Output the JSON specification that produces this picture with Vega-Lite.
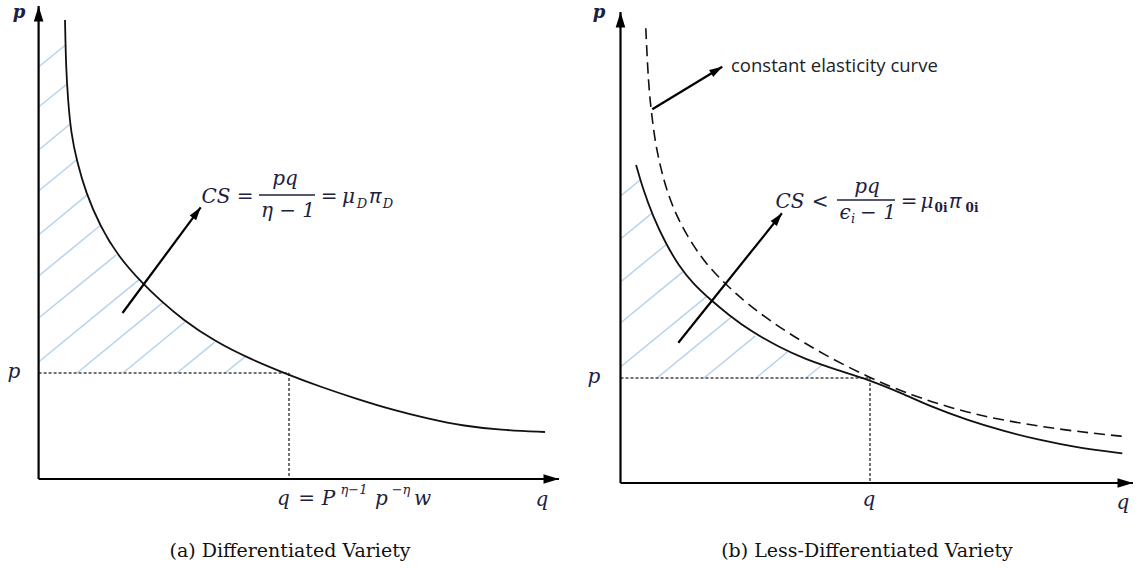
{
  "$schema": "https://vega.github.io/schema/vega-lite/v6.json",
  "width": 1136,
  "height": 571,
  "autosize": {"type": "fit", "contains": "padding"},
  "padding": 0,
  "background": "white",
  "config": {"view": {"stroke": null}},
  "datasets": {
    "segments": [
      {"kind": "hatch", "x": 38.6, "y": 67, "x2": 65.5, "y2": 45},
      {"kind": "hatch", "x": 38.6, "y": 107, "x2": 67, "y2": 84},
      {"kind": "hatch", "x": 38.6, "y": 150, "x2": 70.2, "y2": 124},
      {"kind": "hatch", "x": 38.6, "y": 191, "x2": 77, "y2": 159.5},
      {"kind": "hatch", "x": 38.6, "y": 235, "x2": 86.9, "y2": 195.2},
      {"kind": "hatch", "x": 38.6, "y": 276, "x2": 99.6, "y2": 226},
      {"kind": "hatch", "x": 38.6, "y": 318, "x2": 116.3, "y2": 254.8},
      {"kind": "hatch", "x": 38.6, "y": 362, "x2": 139.4, "y2": 279.3},
      {"kind": "hatch", "x": 77, "y": 373, "x2": 163.4, "y2": 302.2},
      {"kind": "hatch", "x": 123, "y": 373, "x2": 184.9, "y2": 322},
      {"kind": "hatch", "x": 177, "y": 373, "x2": 214.5, "y2": 342.3},
      {"kind": "hatch", "x": 225, "y": 373, "x2": 245.8, "y2": 356.2},
      {"kind": "hatch", "x": 620.5, "y": 196, "x2": 640.3, "y2": 179.8},
      {"kind": "hatch", "x": 620.5, "y": 239, "x2": 651.8, "y2": 213.3},
      {"kind": "hatch", "x": 620.5, "y": 282, "x2": 666.3, "y2": 244.5},
      {"kind": "hatch", "x": 620.5, "y": 323, "x2": 682.8, "y2": 271.9},
      {"kind": "hatch", "x": 620.5, "y": 367, "x2": 706.8, "y2": 296.3},
      {"kind": "hatch", "x": 657, "y": 378, "x2": 731.3, "y2": 317.1},
      {"kind": "hatch", "x": 704, "y": 378, "x2": 755.4, "y2": 335.9},
      {"kind": "hatch", "x": 756, "y": 378, "x2": 787.4, "y2": 352},
      {"kind": "hatch", "x": 806, "y": 378, "x2": 822, "y2": 365},
      {"kind": "dotted", "x": 38.6, "y": 373, "x2": 289, "y2": 373},
      {"kind": "dotted", "x": 289, "y": 373, "x2": 289, "y2": 479},
      {"kind": "dotted", "x": 620.5, "y": 378, "x2": 870, "y2": 378},
      {"kind": "dotted", "x": 870, "y": 378, "x2": 870, "y2": 483},
      {"kind": "bar", "x": 259, "y": 195, "x2": 315, "y2": 195},
      {"kind": "bar", "x": 837, "y": 200, "x2": 895, "y2": 200},
      {"kind": "axis", "x": 38.6, "y": 479, "x2": 38.6, "y2": 6},
      {"kind": "axis", "x": 38.6, "y": 479, "x2": 559, "y2": 479},
      {"kind": "axis", "x": 620.5, "y": 483, "x2": 620.5, "y2": 12},
      {"kind": "axis", "x": 620.5, "y": 483, "x2": 1133, "y2": 483},
      {"kind": "arrow", "x": 122.5, "y": 313, "x2": 200.7, "y2": 207.3},
      {"kind": "arrow", "x": 652.3, "y": 109.3, "x2": 722.3, "y2": 66.7},
      {"kind": "arrow", "x": 678.3, "y": 342.7, "x2": 781.9, "y2": 213.3}
    ],
    "curves": [
      {"curve": "a", "i": 0, "x": 65, "y": 20},
      {"curve": "a", "i": 1, "x": 66, "y": 67},
      {"curve": "a", "i": 2, "x": 68, "y": 100},
      {"curve": "a", "i": 3, "x": 71, "y": 133},
      {"curve": "a", "i": 4, "x": 77, "y": 162},
      {"curve": "a", "i": 5, "x": 86, "y": 193},
      {"curve": "a", "i": 6, "x": 100, "y": 226},
      {"curve": "a", "i": 7, "x": 118, "y": 256},
      {"curve": "a", "i": 8, "x": 143, "y": 284},
      {"curve": "a", "i": 9, "x": 161, "y": 301},
      {"curve": "a", "i": 10, "x": 182, "y": 319},
      {"curve": "a", "i": 11, "x": 214, "y": 341},
      {"curve": "a", "i": 12, "x": 250, "y": 359},
      {"curve": "a", "i": 13, "x": 289, "y": 375},
      {"curve": "a", "i": 14, "x": 321, "y": 387},
      {"curve": "a", "i": 15, "x": 357, "y": 399},
      {"curve": "a", "i": 16, "x": 393, "y": 410},
      {"curve": "a", "i": 17, "x": 429, "y": 419},
      {"curve": "a", "i": 18, "x": 464, "y": 426},
      {"curve": "a", "i": 19, "x": 500, "y": 430},
      {"curve": "a", "i": 20, "x": 545, "y": 432},
      {"curve": "b", "i": 0, "x": 636.1, "y": 165},
      {"curve": "b", "i": 1, "x": 642.2, "y": 186.7},
      {"curve": "b", "i": 2, "x": 653, "y": 216.7},
      {"curve": "b", "i": 3, "x": 665.7, "y": 243.3},
      {"curve": "b", "i": 4, "x": 678.3, "y": 265},
      {"curve": "b", "i": 5, "x": 692.7, "y": 283.3},
      {"curve": "b", "i": 6, "x": 710.8, "y": 300},
      {"curve": "b", "i": 7, "x": 728.8, "y": 315},
      {"curve": "b", "i": 8, "x": 750.5, "y": 331},
      {"curve": "b", "i": 9, "x": 779.4, "y": 347.3},
      {"curve": "b", "i": 10, "x": 804.7, "y": 359},
      {"curve": "b", "i": 11, "x": 837.1, "y": 370},
      {"curve": "b", "i": 12, "x": 869.6, "y": 380},
      {"curve": "b", "i": 13, "x": 902.1, "y": 393.3},
      {"curve": "b", "i": 14, "x": 931, "y": 406.7},
      {"curve": "b", "i": 15, "x": 967.1, "y": 420},
      {"curve": "b", "i": 16, "x": 1003.2, "y": 431},
      {"curve": "b", "i": 17, "x": 1039.3, "y": 440},
      {"curve": "b", "i": 18, "x": 1075.4, "y": 447.3},
      {"curve": "b", "i": 19, "x": 1122.3, "y": 453.3},
      {"curve": "ce", "i": 0, "x": 645.8, "y": 28.3},
      {"curve": "ce", "i": 1, "x": 647.6, "y": 66.7},
      {"curve": "ce", "i": 2, "x": 649.4, "y": 93.3},
      {"curve": "ce", "i": 3, "x": 651.2, "y": 110},
      {"curve": "ce", "i": 4, "x": 654.8, "y": 140},
      {"curve": "ce", "i": 5, "x": 660.3, "y": 166.7},
      {"curve": "ce", "i": 6, "x": 667.5, "y": 193.3},
      {"curve": "ce", "i": 7, "x": 678.3, "y": 220},
      {"curve": "ce", "i": 8, "x": 692.7, "y": 245},
      {"curve": "ce", "i": 9, "x": 707.2, "y": 265},
      {"curve": "ce", "i": 10, "x": 721.6, "y": 280},
      {"curve": "ce", "i": 11, "x": 736.1, "y": 294},
      {"curve": "ce", "i": 12, "x": 757.7, "y": 312},
      {"curve": "ce", "i": 13, "x": 786.6, "y": 332},
      {"curve": "ce", "i": 14, "x": 822.7, "y": 354},
      {"curve": "ce", "i": 15, "x": 869.6, "y": 378},
      {"curve": "ce", "i": 16, "x": 913, "y": 395.7},
      {"curve": "ce", "i": 17, "x": 949.1, "y": 407.3},
      {"curve": "ce", "i": 18, "x": 985.2, "y": 416.7},
      {"curve": "ce", "i": 19, "x": 1021.3, "y": 423.3},
      {"curve": "ce", "i": 20, "x": 1057.4, "y": 429},
      {"curve": "ce", "i": 21, "x": 1093.5, "y": 433.3},
      {"curve": "ce", "i": 22, "x": 1126, "y": 436.7}
    ],
    "labels": [
      {"role": "ptop", "t": "p", "x": 19, "y": 18},
      {"role": "ptop", "t": "p", "x": 599, "y": 18},
      {"role": "math", "t": "p", "x": 14, "y": 378},
      {"role": "math", "t": "p", "x": 594, "y": 383},
      {"role": "math", "t": "CS", "x": 216, "y": 203},
      {"role": "math", "t": "=", "x": 245, "y": 203},
      {"role": "math", "t": "pq", "x": 285, "y": 185},
      {"role": "math", "t": "η − 1", "x": 288, "y": 217},
      {"role": "math", "t": "=", "x": 329, "y": 203},
      {"role": "math", "t": "μ", "x": 348.5, "y": 203},
      {"role": "mathpi", "t": "π", "x": 375, "y": 203},
      {"role": "math", "t": "CS", "x": 790, "y": 208},
      {"role": "math", "t": "<", "x": 820, "y": 208},
      {"role": "math", "t": "pq", "x": 867, "y": 193},
      {"role": "math", "t": "ϵ", "x": 845, "y": 219},
      {"role": "math", "t": "− 1", "x": 878, "y": 219},
      {"role": "math", "t": "=", "x": 909, "y": 208},
      {"role": "math", "t": "μ", "x": 927, "y": 208},
      {"role": "mathpi", "t": "π", "x": 955, "y": 208},
      {"role": "math", "t": "q", "x": 283.5, "y": 505},
      {"role": "math", "t": "=", "x": 306.5, "y": 505},
      {"role": "math", "t": "P", "x": 328.5, "y": 505},
      {"role": "math", "t": "p", "x": 381.5, "y": 505},
      {"role": "math", "t": "w", "x": 422.5, "y": 505},
      {"role": "math", "t": "q", "x": 542, "y": 506},
      {"role": "math", "t": "q", "x": 869, "y": 506},
      {"role": "math", "t": "q", "x": 1123, "y": 509},
      {"role": "sub", "t": "D", "x": 362, "y": 208},
      {"role": "sub", "t": "D", "x": 388, "y": 208},
      {"role": "sub", "t": "i", "x": 853, "y": 223},
      {"role": "subup", "t": "0i", "x": 941, "y": 212},
      {"role": "subup", "t": "0i", "x": 972, "y": 212},
      {"role": "sup", "t": "η−1", "x": 354, "y": 494},
      {"role": "sup", "t": "−η", "x": 401, "y": 494},
      {"role": "note", "t": "constant elasticity curve", "x": 731, "y": 72},
      {"role": "caption", "t": "(a) Differentiated Variety", "x": 290, "y": 557},
      {"role": "caption", "t": "(b) Less-Differentiated Variety", "x": 867, "y": 557}
    ]
  },
  "layer": [
    {
      "data": {"name": "segments"},
      "transform": [{"filter": "datum.kind == 'hatch'"}],
      "mark": {"type": "rule", "stroke": "#b7d2ee", "strokeWidth": 1.5},
      "encoding": {
        "x": {"field": "x", "type": "quantitative", "scale": {"domain": [0, 1136], "nice": false, "zero": false}, "axis": null},
        "y": {"field": "y", "type": "quantitative", "scale": {"domain": [0, 571], "nice": false, "zero": false, "reverse": true}, "axis": null},
        "x2": {"field": "x2"},
        "y2": {"field": "y2"}
      }
    },
    {
      "data": {"name": "segments"},
      "transform": [{"filter": "datum.kind == 'dotted'"}],
      "mark": {"type": "rule", "stroke": "#444444", "strokeWidth": 1.5, "strokeDash": [3, 2]},
      "encoding": {
        "x": {"field": "x", "type": "quantitative", "scale": {"domain": [0, 1136], "nice": false, "zero": false}, "axis": null},
        "y": {"field": "y", "type": "quantitative", "scale": {"domain": [0, 571], "nice": false, "zero": false, "reverse": true}, "axis": null},
        "x2": {"field": "x2"},
        "y2": {"field": "y2"}
      }
    },
    {
      "data": {"name": "curves"},
      "transform": [{"filter": "datum.curve != 'ce'"}],
      "mark": {"type": "line", "stroke": "#111111", "strokeWidth": 1.8, "interpolate": "basis"},
      "encoding": {
        "x": {"field": "x", "type": "quantitative", "scale": {"domain": [0, 1136], "nice": false, "zero": false}, "axis": null},
        "y": {"field": "y", "type": "quantitative", "scale": {"domain": [0, 571], "nice": false, "zero": false, "reverse": true}, "axis": null},
        "detail": {"field": "curve"},
        "order": {"field": "i", "type": "quantitative"}
      }
    },
    {
      "data": {"name": "curves"},
      "transform": [{"filter": "datum.curve == 'ce'"}],
      "mark": {"type": "line", "stroke": "#111111", "strokeWidth": 1.6, "strokeDash": [11, 6], "interpolate": "basis"},
      "encoding": {
        "x": {"field": "x", "type": "quantitative", "scale": {"domain": [0, 1136], "nice": false, "zero": false}, "axis": null},
        "y": {"field": "y", "type": "quantitative", "scale": {"domain": [0, 571], "nice": false, "zero": false, "reverse": true}, "axis": null},
        "order": {"field": "i", "type": "quantitative"}
      }
    },
    {
      "data": {"name": "segments"},
      "transform": [{"filter": "datum.kind == 'axis' || datum.kind == 'arrow'"}],
      "mark": {"type": "rule", "stroke": "#000000", "strokeWidth": 2.2},
      "encoding": {
        "x": {"field": "x", "type": "quantitative", "scale": {"domain": [0, 1136], "nice": false, "zero": false}, "axis": null},
        "y": {"field": "y", "type": "quantitative", "scale": {"domain": [0, 571], "nice": false, "zero": false, "reverse": true}, "axis": null},
        "x2": {"field": "x2"},
        "y2": {"field": "y2"}
      }
    },
    {
      "data": {"name": "segments"},
      "transform": [{"filter": "datum.kind == 'bar'"}],
      "mark": {"type": "rule", "stroke": "#1c2140", "strokeWidth": 1.3},
      "encoding": {
        "x": {"field": "x", "type": "quantitative", "scale": {"domain": [0, 1136], "nice": false, "zero": false}, "axis": null},
        "y": {"field": "y", "type": "quantitative", "scale": {"domain": [0, 571], "nice": false, "zero": false, "reverse": true}, "axis": null},
        "x2": {"field": "x2"},
        "y2": {"field": "y2"}
      }
    },
    {
      "data": {"name": "segments"},
      "transform": [
        {"filter": "datum.kind == 'axis'"},
        {"calculate": "atan2(datum.x2 - datum.x, datum.y - datum.y2) * 180 / PI", "as": "ang"}
      ],
      "mark": {"type": "point", "shape": "M0,0 L-0.62,2 L0.62,2 Z", "filled": true, "color": "#000000", "opacity": 1, "size": 240},
      "encoding": {
        "x": {"field": "x2", "type": "quantitative", "scale": {"domain": [0, 1136], "nice": false, "zero": false}, "axis": null},
        "y": {"field": "y2", "type": "quantitative", "scale": {"domain": [0, 571], "nice": false, "zero": false, "reverse": true}, "axis": null},
        "angle": {"field": "ang", "type": "quantitative", "scale": null}
      }
    },
    {
      "data": {"name": "segments"},
      "transform": [
        {"filter": "datum.kind == 'arrow'"},
        {"calculate": "atan2(datum.x2 - datum.x, datum.y - datum.y2) * 180 / PI", "as": "ang"}
      ],
      "mark": {"type": "point", "shape": "M0,0 L-0.62,2 L0.62,2 Z", "filled": true, "color": "#000000", "opacity": 1, "size": 170},
      "encoding": {
        "x": {"field": "x2", "type": "quantitative", "scale": {"domain": [0, 1136], "nice": false, "zero": false}, "axis": null},
        "y": {"field": "y2", "type": "quantitative", "scale": {"domain": [0, 571], "nice": false, "zero": false, "reverse": true}, "axis": null},
        "angle": {"field": "ang", "type": "quantitative", "scale": null}
      }
    },
    {
      "data": {"name": "labels"},
      "transform": [{"filter": "datum.role == 'ptop'"}],
      "mark": {"type": "text", "font": "DejaVu Serif", "fontStyle": "italic", "fontWeight": "bold", "fontSize": 18, "color": "#1c2140", "align": "center", "baseline": "alphabetic"},
      "encoding": {
        "x": {"field": "x", "type": "quantitative", "scale": {"domain": [0, 1136], "nice": false, "zero": false}, "axis": null},
        "y": {"field": "y", "type": "quantitative", "scale": {"domain": [0, 571], "nice": false, "zero": false, "reverse": true}, "axis": null},
        "text": {"field": "t"}
      }
    },
    {
      "data": {"name": "labels"},
      "transform": [{"filter": "datum.role == 'math'"}],
      "mark": {"type": "text", "font": "DejaVu Serif", "fontStyle": "italic", "fontSize": 20, "color": "#1c2140", "align": "center", "baseline": "alphabetic"},
      "encoding": {
        "x": {"field": "x", "type": "quantitative", "scale": {"domain": [0, 1136], "nice": false, "zero": false}, "axis": null},
        "y": {"field": "y", "type": "quantitative", "scale": {"domain": [0, 571], "nice": false, "zero": false, "reverse": true}, "axis": null},
        "text": {"field": "t"}
      }
    },
    {
      "data": {"name": "labels"},
      "transform": [{"filter": "datum.role == 'mathpi'"}],
      "mark": {"type": "text", "font": "Noto Sans", "fontStyle": "italic", "fontSize": 20, "color": "#1c2140", "align": "center", "baseline": "alphabetic"},
      "encoding": {
        "x": {"field": "x", "type": "quantitative", "scale": {"domain": [0, 1136], "nice": false, "zero": false}, "axis": null},
        "y": {"field": "y", "type": "quantitative", "scale": {"domain": [0, 571], "nice": false, "zero": false, "reverse": true}, "axis": null},
        "text": {"field": "t"}
      }
    },
    {
      "data": {"name": "labels"},
      "transform": [{"filter": "datum.role == 'sub' || datum.role == 'sup'"}],
      "mark": {"type": "text", "font": "DejaVu Serif", "fontStyle": "italic", "fontSize": 13, "color": "#1c2140", "align": "center", "baseline": "alphabetic"},
      "encoding": {
        "x": {"field": "x", "type": "quantitative", "scale": {"domain": [0, 1136], "nice": false, "zero": false}, "axis": null},
        "y": {"field": "y", "type": "quantitative", "scale": {"domain": [0, 571], "nice": false, "zero": false, "reverse": true}, "axis": null},
        "text": {"field": "t"}
      }
    },
    {
      "data": {"name": "labels"},
      "transform": [{"filter": "datum.role == 'subup'"}],
      "mark": {"type": "text", "font": "DejaVu Serif", "fontWeight": "bold", "fontSize": 12, "color": "#1c2140", "align": "center", "baseline": "alphabetic"},
      "encoding": {
        "x": {"field": "x", "type": "quantitative", "scale": {"domain": [0, 1136], "nice": false, "zero": false}, "axis": null},
        "y": {"field": "y", "type": "quantitative", "scale": {"domain": [0, 571], "nice": false, "zero": false, "reverse": true}, "axis": null},
        "text": {"field": "t"}
      }
    },
    {
      "data": {"name": "labels"},
      "transform": [{"filter": "datum.role == 'note'"}],
      "mark": {"type": "text", "font": "Open Sans", "fontSize": 18.5, "color": "#222222", "align": "left", "baseline": "alphabetic"},
      "encoding": {
        "x": {"field": "x", "type": "quantitative", "scale": {"domain": [0, 1136], "nice": false, "zero": false}, "axis": null},
        "y": {"field": "y", "type": "quantitative", "scale": {"domain": [0, 571], "nice": false, "zero": false, "reverse": true}, "axis": null},
        "text": {"field": "t"}
      }
    },
    {
      "data": {"name": "labels"},
      "transform": [{"filter": "datum.role == 'caption'"}],
      "mark": {"type": "text", "font": "DejaVu Serif", "fontSize": 19, "color": "#111111", "align": "center", "baseline": "alphabetic"},
      "encoding": {
        "x": {"field": "x", "type": "quantitative", "scale": {"domain": [0, 1136], "nice": false, "zero": false}, "axis": null},
        "y": {"field": "y", "type": "quantitative", "scale": {"domain": [0, 571], "nice": false, "zero": false, "reverse": true}, "axis": null},
        "text": {"field": "t"}
      }
    }
  ]
}
